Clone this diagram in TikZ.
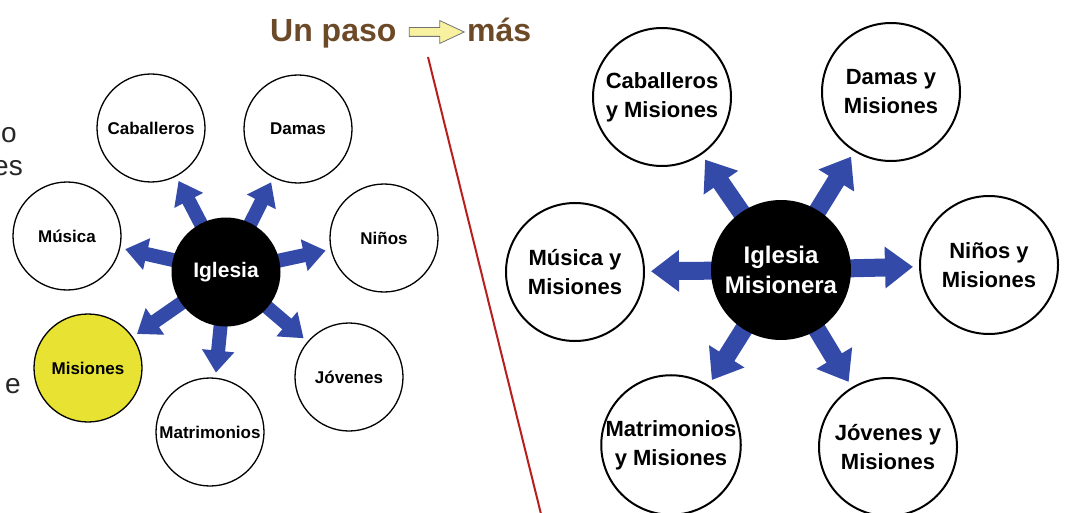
\documentclass[tikz,border=0pt]{standalone}
\usepackage{fontspec}
\setmainfont{Liberation Sans}
\usepackage{tikz}
\usetikzlibrary{shapes, arrows.meta, positioning, backgrounds}
\definecolor{arrowblue}{RGB}{52,74,168}
\definecolor{titlebrown}{RGB}{108,74,40}
\definecolor{misyellow}{RGB}{232,226,50}
\definecolor{dividerred}{RGB}{185,30,30}
\definecolor{pale}{RGB}{248,242,160}
\tikzstyle{title} = [inner sep = 0pt, text = titlebrown, font = \fontsize{32}{36}\selectfont\bfseries]
\tikzstyle{tarrow} = [single arrow, draw = black!55, fill = pale, line width = 0.8pt, inner sep = 4pt, minimum height = 55pt, single arrow head extend = 7pt, single arrow tip angle = 50]
\tikzstyle{frag} = [inner sep = 0pt, text = black!85, font = \fontsize{28}{30}\selectfont]
\tikzstyle{snode} = [circle, draw, fill = white, line width = 1.3pt, minimum size = 108pt, inner sep = 0pt, font = \fontsize{17}{20}\selectfont\bfseries]
\tikzstyle{bnode} = [circle, draw, fill = white, line width = 2pt, minimum size = 138pt, inner sep = 0pt, align = center, font = \fontsize{22}{29}\selectfont\bfseries]
\tikzstyle{lhub} = [circle, fill = black, text = white, minimum size = 109pt, inner sep = 0pt, font = \fontsize{21}{24}\selectfont\bfseries]
\tikzstyle{rhub} = [circle, fill = black, text = white, minimum size = 140pt, inner sep = 0pt, align = center, font = \fontsize{24}{30}\selectfont\bfseries]
\tikzstyle{sarrow} = [draw = arrowblue, line width = 14pt, shorten <= -6pt, shorten >= 5pt, -{Triangle[length = 22pt, width = 31pt]}]
\tikzstyle{barrow} = [draw = arrowblue, line width = 18pt, shorten <= -6pt, shorten >= 6pt, -{Triangle[length = 28pt, width = 40pt]}]
\tikzstyle{divider} = [draw = dividerred, line width = 2pt]

\begin{document}
\begin{tikzpicture}[x = 1pt, y = -1pt]
			\useasboundingbox (0, 0) rectangle (1065, 513);
			\clip (0, 0) rectangle (1065, 513);
			
			% title
			\node [title, anchor = base west] (paso) at (270, 42) {Un paso};
			\node [tarrow] (flecha) at (432, 32) {};
			\node [title, anchor = base west] (mas) at (467, 42) {más};
			
			% cut off text at the left edge
			\node [frag, anchor = base east] (frag1) at (17, 143) {o};
			\node [frag, anchor = base east] (frag2) at (23, 176) {es};
			\node [frag, anchor = base east] (frag3) at (21, 393) {e};
			
			\coordinate (divtop) at (428, 57);
			\coordinate (divbot) at (541, 514);
			\path [divider] (divtop) -- (divbot);
			
			% before
			\node [lhub] (igl) at (226, 272) {Iglesia};
			\node [snode] (cab) at (151, 128) {Caballeros};
			\node [snode] (dam) at (298, 129) {Damas};
			\node [snode] (nin) at (384, 238) {Niños};
			\node [snode] (mus) at (67, 236) {Música};
			\node [snode, fill = misyellow] (mis) at (88, 368) {Misiones};
			\node [snode] (mat) at (210, 432) {Matrimonios};
			\node [snode] (jov) at (349, 377) {Jóvenes};
			
			% after
			\node [rhub] (iglm) at (781, 270) {Iglesia\\Misionera};
			\node [bnode] (cabm) at (662, 97) {Caballeros\\y Misiones};
			\node [bnode] (damm) at (891, 92) {Damas y\\Misiones};
			\node [bnode] (ninm) at (989, 265) {Niños y\\Misiones};
			\node [bnode] (musm) at (575, 272) {Música y\\Misiones};
			\node [bnode] (matm) at (671, 445) {Matrimonios\\y Misiones};
			\node [bnode] (jovm) at (888, 447) {Jóvenes y\\Misiones};
			
			\begin{scope}[on background layer]
				\fill [white] (0, 0) rectangle (1065, 513);
				\foreach \t in {cab, dam, nin, mus, mis, mat, jov}
					\path [sarrow] (igl) -- (\t);
				\foreach \t in {cabm, damm, ninm, musm, matm, jovm}
					\path [barrow] (iglm) -- (\t);
			\end{scope}
		\end{tikzpicture}
\end{document}
